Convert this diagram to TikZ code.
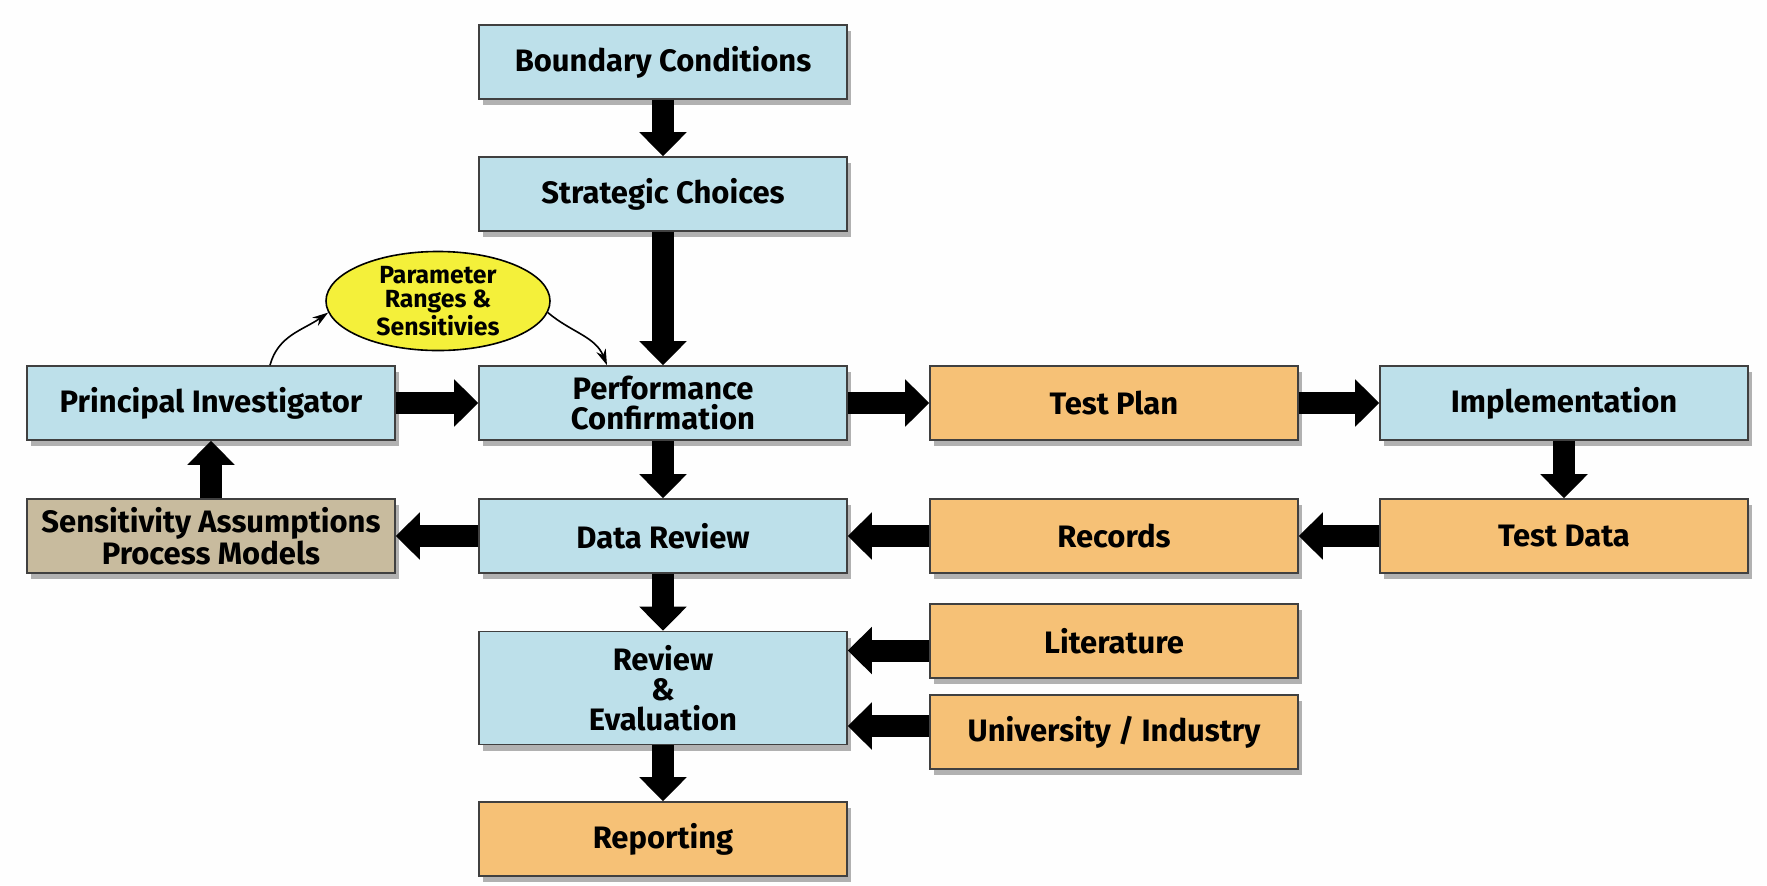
\documentclass[tikz,border=0pt]{standalone}
\usepackage{fontspec}
\setmainfont{Fira Sans}
\usetikzlibrary{arrows.meta,shapes.geometric,shadows}

\definecolor{boxblue}{HTML}{BDE0EA}
\definecolor{boxorange}{HTML}{F6C176}
\definecolor{boxtan}{HTML}{C8BB9E}
\definecolor{paramyellow}{HTML}{F4F03A}
\definecolor{pagebg}{HTML}{FEFEFE}

\tikzset{
    stagebox/.style={shape=rectangle,draw=black!75,line width=0.8pt,
        minimum width=184pt,minimum height=37pt,inner sep=0pt,align=center,
        font=\bfseries\fontsize{15.5}{15}\selectfont,
        drop shadow={shadow xshift=2pt,shadow yshift=-3pt,fill=black!60}},
    bluebox/.style={stagebox,fill=boxblue},
    orangebox/.style={stagebox,fill=boxorange},
    tanbox/.style={stagebox,fill=boxtan},
    bigarrow/.style={line width=11pt,-{Triangle[length=12pt,width=23pt]}},
    thinarrow/.style={line width=0.8pt,-{Stealth[length=8pt,width=5pt]}}
}

\begin{document}
\begin{tikzpicture}[x=0.5pt,y=-0.5pt]
                \fill[pagebg] (0,0) rectangle (1767,885);
                \useasboundingbox (0,0) rectangle (1767,885);

                \node[bluebox] (bc) at (663,62) {Boundary Conditions};
                \node[bluebox] (sc) at (663,194) {Strategic Choices};
                \node[bluebox] (pi) at (211,403) {Principal Investigator};
                \node[bluebox] (pc) at (663,403) {Performance\\Confirmation};
                \node[orangebox] (tp) at (1114,403) {Test Plan};
                \node[bluebox] (im) at (1564,403) {Implementation};
                \node[tanbox] (sa) at (211,536) {Sensitivity Assumptions\\Process Models};
                \node[bluebox] (dr) at (663,536) {Data Review};
                \node[orangebox] (rc) at (1114,536) {Records};
                \node[orangebox] (td) at (1564,536) {Test Data};
                \node[orangebox] (lt) at (1114,641) {Literature};
                \node[orangebox] (ui) at (1114,732) {University / Industry};
                \node[bluebox,minimum height=56.5pt] (re) at (663,688) {Review\\\&\\Evaluation};
                \node[orangebox] (rp) at (663,839) {Reporting};
                \node[shape=ellipse,draw=black,line width=0.8pt,fill=paramyellow,
                    minimum width=112pt,minimum height=49pt,inner sep=0pt,align=center,
                    font=\bfseries\fontsize{12.4}{12.4}\selectfont] (param) at (438,301)
                    {Parameter\\Ranges \&\\Sensitivies};

                \coordinate (litin) at ([yshift=-4.75pt]lt.west);
                \coordinate (uniin) at ([yshift=3pt]ui.west);

                \path [bigarrow] (bc) edge (sc);
                \path [bigarrow] (sc) edge (pc);
                \path [bigarrow] (pi) edge (pc);
                \path [bigarrow] (pc) edge (tp);
                \path [bigarrow] (tp) edge (im);
                \path [bigarrow] (im) edge (td);
                \path [bigarrow] (td) edge (rc);
                \path [bigarrow] (rc) edge (dr);
                \path [bigarrow] (dr) edge (sa);
                \path [bigarrow] (sa) edge (pi);
                \path [bigarrow] (pc) edge (dr);
                \path [bigarrow] (dr) edge (re);
                \path [bigarrow] (litin) edge (litin -| re.east);
                \path [bigarrow] (uniin) edge (uniin -| re.east);
                \path [bigarrow] (re) edge (rp);

                \path [thinarrow] ([xshift=29.5pt]pi.north) edge[out=75,in=215] (param.186);
                \path [thinarrow] (param.-6) edge[out=-40,in=112] ([xshift=-28pt]pc.north);
            \end{tikzpicture}
\end{document}
